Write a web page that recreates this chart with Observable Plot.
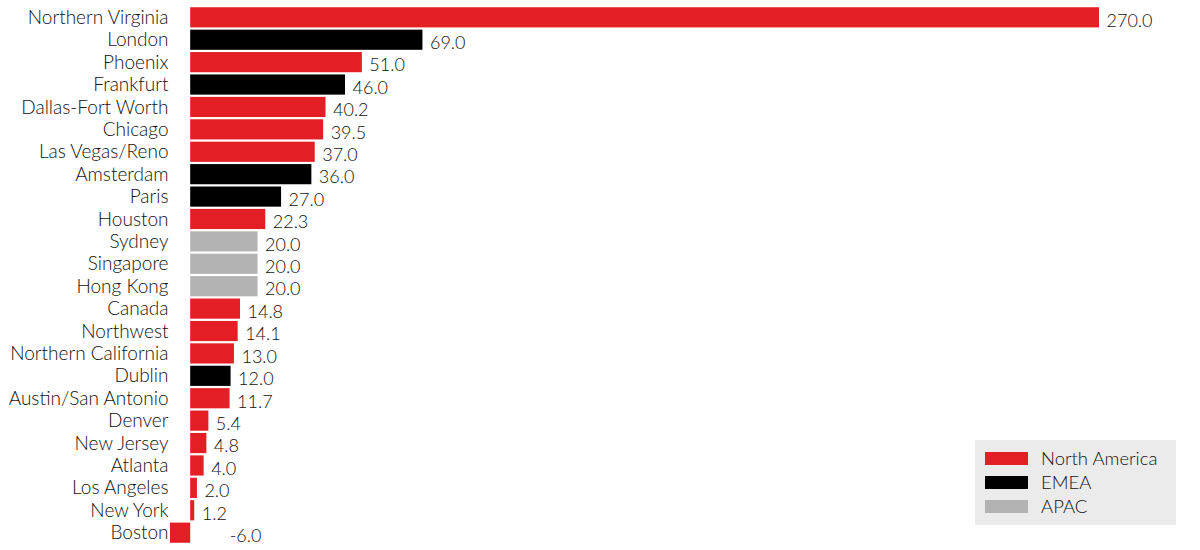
<!DOCTYPE html>
<html>
<head>
<meta charset="utf-8">
<script src="https://cdn.jsdelivr.net/npm/d3@7"></script>
<script src="https://cdn.jsdelivr.net/npm/@observablehq/plot@0.6"></script>
<style>
  html, body { margin: 0; padding: 0; background: #fff; }
  #wrap { position: relative; width: 1200px; height: 550px; font-family: Lato, "Open Sans", sans-serif; font-weight: 300; }
  #legend { position: absolute; left: 975px; top: 440px; width: 201px; height: 85px; background: #ebebeb; }
  .item { position: absolute; left: 10px; height: 24px; display: flex; align-items: center; font-size: 18.5px; color: #111; }
  .sw { width: 43px; height: 13px; margin-right: 13px; }
</style>
</head>
<body>
<div id="wrap"><div id="chart"></div><div id="legend"></div></div>
<script>
const markets = ["Northern Virginia","London","Phoenix","Frankfurt","Dallas-Fort Worth","Chicago","Las Vegas/Reno","Amsterdam","Paris","Houston","Sydney","Singapore","Hong Kong","Canada","Northwest","Northern California","Dublin","Austin/San Antonio","Denver","New Jersey","Atlanta","Los Angeles","New York","Boston"];
const values = [270.0,69.0,51.0,46.0,40.2,39.5,37.0,36.0,27.0,22.3,20.0,20.0,20.0,14.8,14.1,13.0,12.0,11.7,5.4,4.8,4.0,2.0,1.2,-6.0];
const regions = ["North America","EMEA","North America","EMEA","North America","North America","North America","EMEA","EMEA","North America","APAC","APAC","APAC","North America","North America","North America","EMEA","North America","North America","North America","North America","North America","North America","North America"];
const regionNames = ["North America","EMEA","APAC"];
const regionColors = ["#e31e24","#000000","#b3b3b3"];

const data = markets.map((m, i) => ({market: m, value: values[i], region: regions[i]}));
const pos = data.filter(d => d.value >= 0);
const neg = data.filter(d => d.value < 0);

const chart = Plot.plot({
  width: 1200,
  height: 550,
  marginLeft: 170,
  marginRight: 101,
  marginTop: 5,
  marginBottom: 5,
  style: {fontFamily: "Lato, 'Open Sans', sans-serif", fontSize: "19px", fontWeight: 300, color: "#111"},
  x: {domain: [-6, 270], axis: null},
  y: {domain: markets, padding: 0.1, round: false, label: null, tickSize: 0, tickPadding: 2},
  color: {domain: regionNames, range: regionColors},
  marks: [
    Plot.barX(data, {x: "value", y: "market", fill: "region"}),
    Plot.text(pos, {x: "value", y: "market", text: d => d.value.toFixed(1), textAnchor: "start", dx: 7, dy: 3, fill: "#111", fontSize: 18, fontWeight: 300}),
    Plot.text(neg, {x: 0, y: "market", text: d => d.value.toFixed(1), textAnchor: "start", dx: 39, dy: 3, fill: "#111", fontSize: 18, fontWeight: 300}),
    Plot.axisY({tickSize: 0, tickPadding: 2, fontSize: 19, fontWeight: 300, fill: "#111", label: null})
  ]
});
document.getElementById("chart").appendChild(chart);

const legend = document.getElementById("legend");
regionNames.forEach((r, i) => {
  const it = document.createElement("div");
  it.className = "item";
  it.style.top = (6 + i * 24) + "px";
  it.innerHTML = `<span class="sw" style="background:${regionColors[i]}"></span><span>${r}</span>`;
  legend.appendChild(it);
});
</script>
</body>
</html>
